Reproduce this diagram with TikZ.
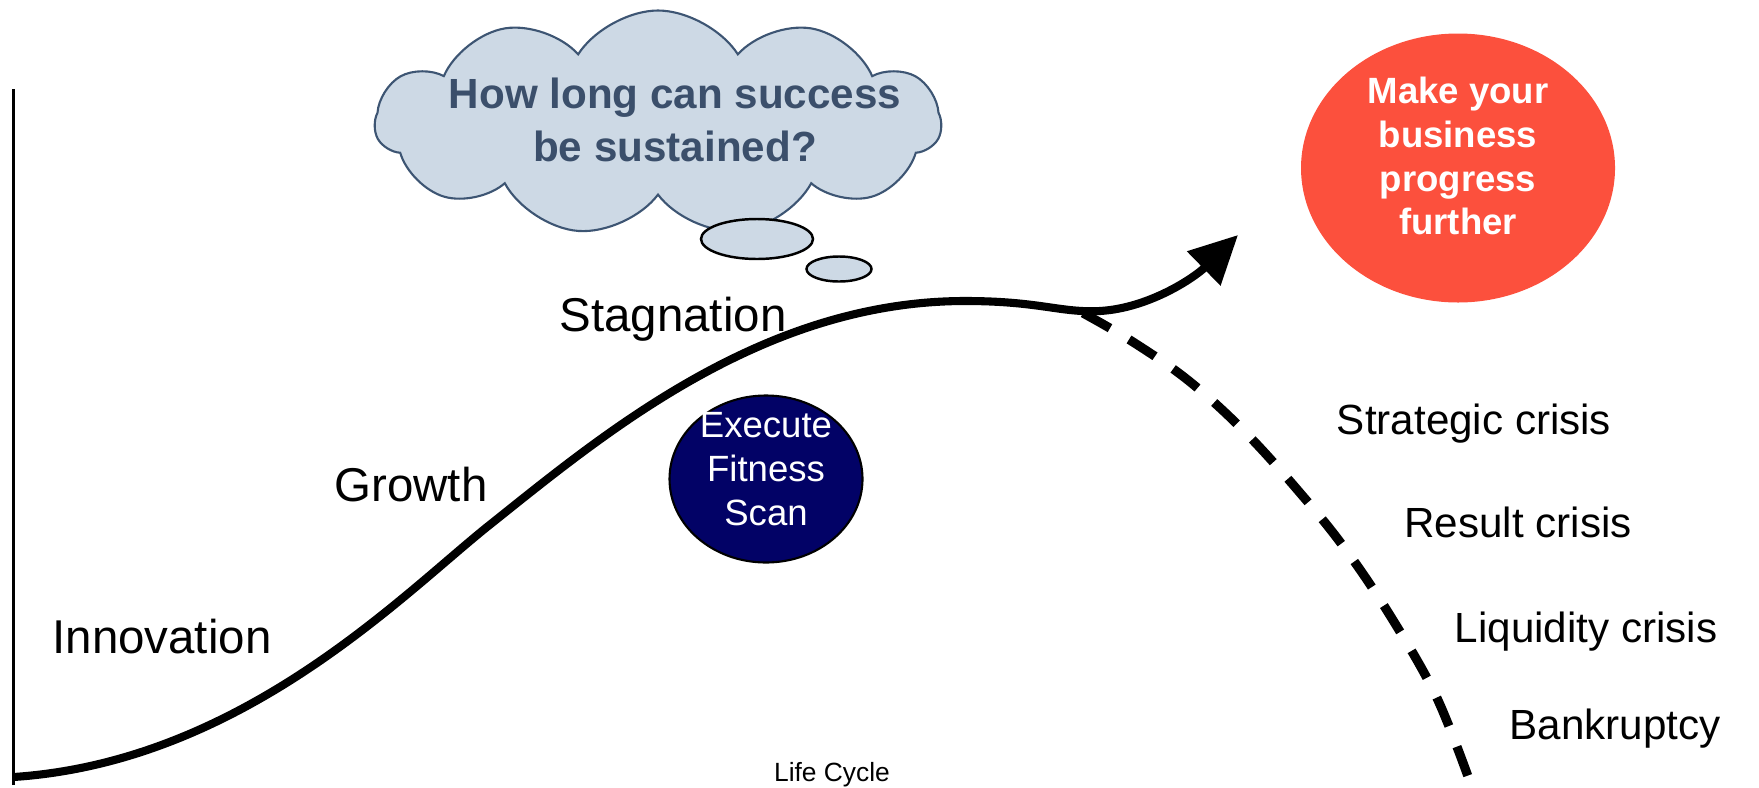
\documentclass[tikz,border=0pt]{standalone}
\usepackage{fontspec}
\setmainfont{Liberation Sans}
\usetikzlibrary{arrows.meta,shapes.geometric,shapes.symbols}
\definecolor{cloudfill}{HTML}{CDD9E5}
\definecolor{cloudline}{HTML}{3D5573}
\definecolor{cloudtext}{HTML}{3B4F6B}
\definecolor{goalred}{HTML}{FC503D}
\definecolor{scannavy}{HTML}{020266}

\begin{document}
\begin{tikzpicture}[>={Triangle[length=4.8mm,width=4.6mm]},
    phase/.style={font=\fontsize{13.5}{16}\selectfont, anchor=base, inner sep=0pt},
    crisis/.style={font=\fontsize{12}{14}\selectfont, anchor=base, inner sep=0pt},
    bubble/.style={ellipse, draw=black, line width=0.7pt, fill=cloudfill, inner sep=0pt}]
    \useasboundingbox (0,0) rectangle (17.59,7.87);

    % Achse
    \draw[line width=0.8pt] (0.135,0.02) -- (0.135,6.98);

    % Gedankenwolke
    \node[cloud, cloud puffs=11, cloud puff arc=115, aspect=2.8, draw=cloudline, line width=0.6pt,
          fill=cloudfill, minimum width=5.66cm, minimum height=2.25cm] (cloud) at (6.58,6.64) {};
    \node[font=\fontsize{12}{15}\selectfont\bfseries, text=cloudtext, align=center] (question) at (6.75,6.67)
        {How long can success\\be sustained?};
    \node[bubble, minimum width=1.12cm, minimum height=0.40cm] (bubble1) at (7.57,5.48) {};
    \node[bubble, minimum width=0.65cm, minimum height=0.25cm] (bubble2) at (8.39,5.18) {};

    % Kreise
    \node[ellipse, fill=goalred, minimum width=3.14cm, minimum height=2.69cm] (goal) at (14.58,6.19) {};
    \node[text=white, font=\fontsize{10.4}{12.5}\selectfont\bfseries, align=center] (goaltext) at (14.58,6.31)
        {Make your\\business\\progress\\further};
    \node[ellipse, draw=black, line width=0.6pt, fill=scannavy, minimum width=1.93cm, minimum height=1.67cm] (scan) at (7.66,3.08) {};
    \node[text=white, font=\fontsize{10.4}{12.5}\selectfont, align=center] (scantext) at (7.66,3.18)
        {Execute\\Fitness\\Scan};

    % Lebenszyklus
    \draw[line width=2.3pt, ->] (0.135,0.10) .. controls (2.4,0.25) and (4.0,1.9) .. (4.87,2.60)
        .. controls (6.0,3.5) and (7.6,4.86) .. (9.65,4.86)
        .. controls (10.4,4.86) and (10.6,4.74) .. (11.0,4.76)
        .. controls (11.5,4.79) and (11.95,5.1) .. (12.38,5.52);
    \coordinate (fork) at (10.83,4.74);
    \draw[line width=2.6pt, dash pattern=on 8.8pt off 6.3pt] plot[smooth, tension=0.6] coordinates {(fork)
        (11.33,4.45) (11.89,4.06) (12.45,3.55) (13.01,2.93) (13.46,2.37) (13.91,1.70) (14.36,0.91) (14.70,0.05)};

    % Phasen
    \node[phase] (innovation) at (1.62,1.34) {Innovation};
    \node[phase] (growth) at (4.11,2.86) {Growth};
    \node[phase] (stagnation) at (6.73,4.56) {Stagnation};

    % Krisen
    \node[crisis] (strategic) at (14.74,3.53) {Strategic crisis};
    \node[crisis] (result) at (15.18,2.50) {Result crisis};
    \node[crisis] (liquidity) at (15.86,1.45) {Liquidity crisis};
    \node[crisis] (bankruptcy) at (16.15,0.48) {Bankruptcy};

    \node[font=\fontsize{7.5}{9}\selectfont, anchor=base, inner sep=0pt] (lifecycle) at (8.32,0.06) {Life Cycle};
\end{tikzpicture}
\end{document}
